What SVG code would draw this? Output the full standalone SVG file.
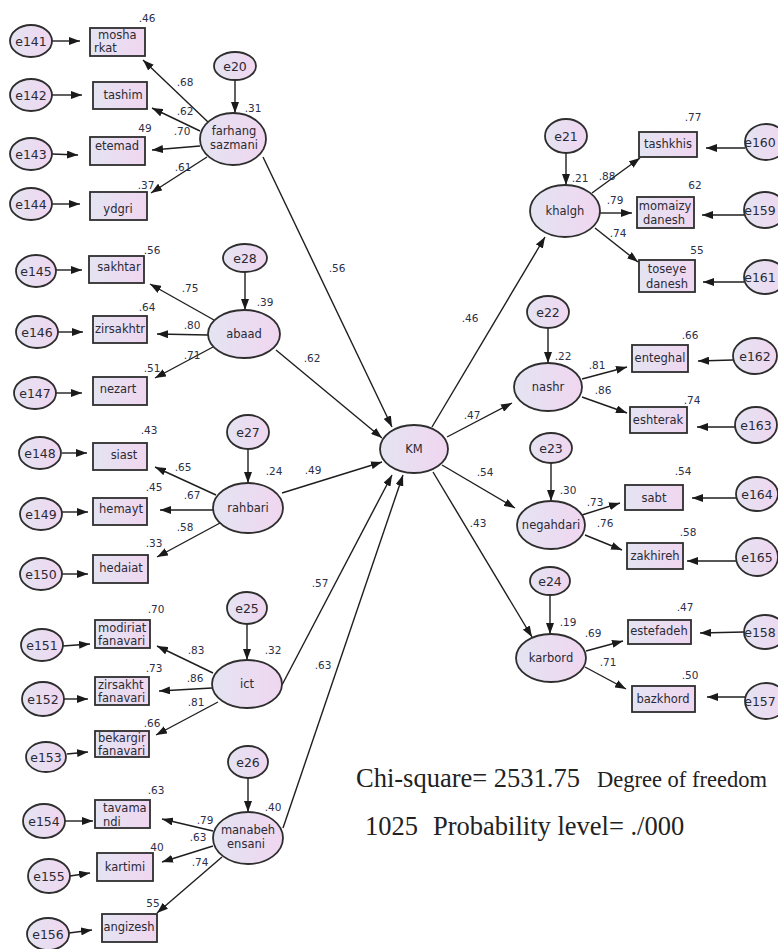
<svg xmlns="http://www.w3.org/2000/svg" width="778" height="949" viewBox="0 0 778 949">
<defs>
<linearGradient id="g" x1="0" y1="0" x2="1" y2="0">
<stop offset="0" stop-color="#e4e4f2"/>
<stop offset="1" stop-color="#f0d6f0"/>
</linearGradient>
<marker id="ah" markerWidth="11" markerHeight="8" refX="11" refY="4" orient="auto" markerUnits="userSpaceOnUse">
<path d="M0,0 L11,4 L0,8 z" fill="#1a1a1a"/>
</marker>
</defs>
<style>
ellipse{fill:url(#g);stroke:#2e2e2e;stroke-width:1.8}
rect.b{fill:url(#g);stroke:#2e2e2e;stroke-width:1.8}
text{font-family:"DejaVu Sans",Verdana,sans-serif;fill:#2a2a35}
.e{font-size:12.5px;text-anchor:middle}
.l{font-size:11.5px;text-anchor:middle}
.ls{font-size:11.5px;text-anchor:start}
.c{font-size:10.5px;text-anchor:middle;fill:#2c2f48}
#connectors line{stroke:#1e1e1e;stroke-width:1.4;marker-end:url(#ah)}
.f{font-family:"Liberation Serif","Times New Roman",serif;font-size:26.5px;fill:#222}
</style>
<rect x="0" y="0" width="778" height="949" style="fill:#ffffff;stroke:none"/>
<g id="connectors">
<line x1="52" y1="41" x2="80" y2="41"/>
<line x1="52" y1="95" x2="82" y2="95"/>
<line x1="52" y1="154" x2="78" y2="155"/>
<line x1="52" y1="204" x2="80" y2="204"/>
<line x1="56" y1="270" x2="82" y2="270"/>
<line x1="58" y1="332" x2="83" y2="332"/>
<line x1="56" y1="393" x2="82" y2="393"/>
<line x1="62" y1="453" x2="87" y2="453"/>
<line x1="62" y1="512" x2="88" y2="512"/>
<line x1="62" y1="574" x2="88" y2="574"/>
<line x1="63" y1="646" x2="90" y2="644"/>
<line x1="64" y1="699" x2="88" y2="699"/>
<line x1="67" y1="754" x2="88" y2="752"/>
<line x1="65" y1="821" x2="93" y2="821"/>
<line x1="70" y1="876" x2="90" y2="873"/>
<line x1="69" y1="933" x2="92" y2="930"/>
<line x1="208" y1="122" x2="143" y2="60"/>
<line x1="200" y1="131" x2="152" y2="108"/>
<line x1="200" y1="146" x2="152" y2="150"/>
<line x1="207" y1="157" x2="151" y2="193"/>
<line x1="214" y1="320" x2="150" y2="284"/>
<line x1="208" y1="335" x2="157" y2="334"/>
<line x1="213" y1="347" x2="155" y2="378"/>
<line x1="216" y1="495" x2="155" y2="467"/>
<line x1="213" y1="510" x2="160" y2="510"/>
<line x1="220" y1="523" x2="157" y2="557"/>
<line x1="213" y1="673" x2="157" y2="646"/>
<line x1="212" y1="688" x2="159" y2="691"/>
<line x1="218" y1="702" x2="156" y2="735"/>
<line x1="213" y1="831" x2="162" y2="819"/>
<line x1="213" y1="846" x2="162" y2="862"/>
<line x1="222" y1="857" x2="157" y2="913"/>
<line x1="235" y1="80" x2="235" y2="113"/>
<line x1="245" y1="272" x2="245" y2="310"/>
<line x1="248" y1="448" x2="248" y2="483"/>
<line x1="247" y1="624" x2="247" y2="660"/>
<line x1="248" y1="778" x2="248" y2="812"/>
<line x1="566" y1="153" x2="566" y2="185"/>
<line x1="548" y1="328" x2="548" y2="363"/>
<line x1="551" y1="463" x2="551" y2="501"/>
<line x1="550" y1="595" x2="550" y2="634"/>
<line x1="263" y1="157" x2="392" y2="427"/>
<line x1="276" y1="350" x2="382" y2="438"/>
<line x1="282" y1="493" x2="382" y2="462"/>
<line x1="282" y1="685" x2="392" y2="475"/>
<line x1="283" y1="828" x2="403" y2="475"/>
<line x1="432" y1="427" x2="545" y2="237"/>
<line x1="447" y1="437" x2="512" y2="403"/>
<line x1="442" y1="465" x2="515" y2="508"/>
<line x1="433" y1="472" x2="532" y2="637"/>
<line x1="592" y1="193" x2="640" y2="158"/>
<line x1="600" y1="213" x2="632" y2="213"/>
<line x1="595" y1="228" x2="638" y2="262"/>
<line x1="745" y1="148" x2="706" y2="148"/>
<line x1="744" y1="215" x2="702" y2="215"/>
<line x1="744" y1="282" x2="703" y2="282"/>
<line x1="582" y1="379" x2="627" y2="367"/>
<line x1="582" y1="397" x2="627" y2="413"/>
<line x1="733" y1="360" x2="698" y2="361"/>
<line x1="735" y1="427" x2="697" y2="427"/>
<line x1="582" y1="515" x2="620" y2="503"/>
<line x1="585" y1="535" x2="622" y2="550"/>
<line x1="737" y1="498" x2="692" y2="498"/>
<line x1="737" y1="561" x2="687" y2="561"/>
<line x1="586" y1="651" x2="623" y2="641"/>
<line x1="585" y1="667" x2="626" y2="689"/>
<line x1="744" y1="632" x2="700" y2="633"/>
<line x1="745" y1="697" x2="707" y2="697"/>
</g>
<g id="e141"><ellipse cx="31" cy="41" rx="21" ry="16"/><text class="e" x="31" y="45.5">e141</text></g>
<g id="e142"><ellipse cx="31" cy="95" rx="21" ry="16"/><text class="e" x="31" y="99.5">e142</text></g>
<g id="e143"><ellipse cx="31" cy="154" rx="21" ry="16"/><text class="e" x="31" y="158.5">e143</text></g>
<g id="e144"><ellipse cx="31" cy="204" rx="21" ry="16"/><text class="e" x="31" y="208.5">e144</text></g>
<g id="e145"><ellipse cx="36" cy="271" rx="20" ry="16"/><text class="e" x="36" y="275.5">e145</text></g>
<g id="e146"><ellipse cx="37" cy="332" rx="21" ry="16"/><text class="e" x="37" y="336.5">e146</text></g>
<g id="e147"><ellipse cx="35" cy="393" rx="21" ry="16"/><text class="e" x="35" y="397.5">e147</text></g>
<g id="e148"><ellipse cx="40" cy="453" rx="21" ry="16"/><text class="e" x="40" y="457.5">e148</text></g>
<g id="e149"><ellipse cx="41" cy="514" rx="21" ry="16"/><text class="e" x="41" y="518.5">e149</text></g>
<g id="e150"><ellipse cx="41" cy="574" rx="21" ry="16"/><text class="e" x="41" y="578.5">e150</text></g>
<g id="e151"><ellipse cx="42" cy="645" rx="21" ry="16"/><text class="e" x="42" y="649.5">e151</text></g>
<g id="e152"><ellipse cx="43" cy="699" rx="21" ry="17"/><text class="e" x="43" y="703.5">e152</text></g>
<g id="e153"><ellipse cx="46" cy="757" rx="20" ry="15"/><text class="e" x="46" y="761.5">e153</text></g>
<g id="e154"><ellipse cx="44" cy="821" rx="21" ry="17"/><text class="e" x="44" y="825.5">e154</text></g>
<g id="e155"><ellipse cx="49" cy="876" rx="21" ry="17"/><text class="e" x="49" y="880.5">e155</text></g>
<g id="e156"><ellipse cx="48" cy="934" rx="21" ry="16"/><text class="e" x="48" y="938.5">e156</text></g>

<g id="mosharkat"><rect class="b" x="90" y="28" width="55" height="28"/><text class="ls" x="98" y="39">mosha</text><text class="ls" x="94" y="52">rkat</text></g>
<g id="tashim"><rect class="b" x="93" y="82" width="54" height="27"/><text class="l" x="123" y="99">tashim</text></g>
<g id="etemad"><rect class="b" x="90" y="137" width="55" height="28"/><text class="l" x="117" y="150">etemad</text></g>
<g id="ydgri"><rect class="b" x="90" y="192" width="57" height="28"/><text class="l" x="118" y="213">ydgri</text></g>
<g id="sakhtar"><rect class="b" x="89" y="256" width="55" height="27"/><text class="l" x="119" y="271">sakhtar</text></g>
<g id="zirsakhtr"><rect class="b" x="93" y="316" width="54" height="27"/><text class="l" x="120" y="333">zirsakhtr</text></g>
<g id="nezart"><rect class="b" x="93" y="377" width="54" height="28"/><text class="l" x="118" y="393">nezart</text></g>
<g id="siast"><rect class="b" x="93" y="443" width="54" height="27"/><text class="l" x="124" y="459">siast</text></g>
<g id="hemayt"><rect class="b" x="93" y="498" width="54" height="27"/><text class="l" x="121" y="513">hemayt</text></g>
<g id="hedaiat"><rect class="b" x="93" y="555" width="55" height="28"/><text class="l" x="121" y="572">hedaiat</text></g>
<g id="modiriat"><rect class="b" x="95" y="620" width="55" height="28"/><text class="ls" x="98" y="632">modiriat</text><text class="ls" x="98" y="645">fanavari</text></g>
<g id="zirsakht"><rect class="b" x="95" y="677" width="54" height="28"/><text class="ls" x="98" y="689">zirsakht</text><text class="ls" x="98" y="702">fanavari</text></g>
<g id="bekargir"><rect class="b" x="95" y="731" width="54" height="26"/><text class="ls" x="98" y="742">bekargir</text><text class="ls" x="98" y="755">fanavari</text></g>
<g id="tavamandi"><rect class="b" x="95" y="800" width="55" height="28"/><text class="ls" x="103" y="812">tavama</text><text class="ls" x="103" y="826">ndi</text></g>
<g id="kartimi"><rect class="b" x="97" y="853" width="56" height="28"/><text class="l" x="125" y="871">kartimi</text></g>
<g id="angizesh"><rect class="b" x="102" y="914" width="55" height="28"/><text class="l" x="129" y="931">angizesh</text></g>

<g id="farhang"><ellipse cx="233" cy="139" rx="33" ry="26"/><text class="l" x="234" y="135">farhang</text><text class="l" x="234" y="149">sazmani</text></g>
<g id="abaad"><ellipse cx="244" cy="334" rx="36" ry="24"/><text class="l" x="244" y="338">abaad</text></g>
<g id="rahbari"><ellipse cx="248" cy="508" rx="35" ry="25"/><text class="l" x="248" y="512">rahbari</text></g>
<g id="ict"><ellipse cx="247" cy="684" rx="35" ry="24"/><text class="l" x="247" y="688">ict</text></g>
<g id="manabeh"><ellipse cx="248" cy="838" rx="35" ry="26"/><text class="l" x="248" y="834">manabeh</text><text class="l" x="246" y="848">ensani</text></g>

<g id="e20"><ellipse cx="235" cy="66" rx="21" ry="14"/><text class="e" x="235" y="70.5">e20</text></g>
<g id="e28"><ellipse cx="245" cy="258" rx="22" ry="14"/><text class="e" x="245" y="262.5">e28</text></g>
<g id="e27"><ellipse cx="248" cy="432" rx="21" ry="17"/><text class="e" x="248" y="436.5">e27</text></g>
<g id="e25"><ellipse cx="247" cy="608" rx="20" ry="16"/><text class="e" x="247" y="612.5">e25</text></g>
<g id="e26"><ellipse cx="248" cy="762" rx="20" ry="16"/><text class="e" x="248" y="766.5">e26</text></g>

<g id="KM"><ellipse cx="414" cy="449" rx="34" ry="24"/><text class="l" x="414" y="453">KM</text></g>

<g id="khalgh"><ellipse cx="565" cy="211" rx="35" ry="26"/><text class="l" x="565" y="215">khalgh</text></g>
<g id="nashr"><ellipse cx="548" cy="387" rx="34" ry="24"/><text class="l" x="548" y="391">nashr</text></g>
<g id="negahdari"><ellipse cx="551" cy="525" rx="34" ry="24"/><text class="l" x="551" y="529">negahdari</text></g>
<g id="karbord"><ellipse cx="551" cy="658" rx="35" ry="24"/><text class="l" x="551" y="662">karbord</text></g>

<g id="e21"><ellipse cx="566" cy="136" rx="21" ry="17"/><text class="e" x="566" y="140.5">e21</text></g>
<g id="e22"><ellipse cx="548" cy="312" rx="21" ry="16"/><text class="e" x="548" y="316.5">e22</text></g>
<g id="e23"><ellipse cx="551" cy="448" rx="21" ry="15"/><text class="e" x="551" y="452.5">e23</text></g>
<g id="e24"><ellipse cx="550" cy="581" rx="20" ry="14"/><text class="e" x="550" y="585.5">e24</text></g>

<g id="tashkhis"><rect class="b" x="639" y="132" width="58" height="25"/><text class="l" x="668" y="148">tashkhis</text></g>
<g id="momaizy"><rect class="b" x="637" y="197" width="57" height="31"/><text class="l" x="665" y="210">momaizy</text><text class="l" x="664" y="224">danesh</text></g>
<g id="toseye"><rect class="b" x="639" y="260" width="56" height="32"/><text class="l" x="667" y="273">toseye</text><text class="l" x="667" y="288">danesh</text></g>
<g id="enteghal"><rect class="b" x="632" y="345" width="56" height="27"/><text class="l" x="660" y="362">enteghal</text></g>
<g id="eshterak"><rect class="b" x="630" y="407" width="57" height="26"/><text class="l" x="658" y="424">eshterak</text></g>
<g id="sabt"><rect class="b" x="625" y="485" width="58" height="25"/><text class="l" x="654" y="502">sabt</text></g>
<g id="zakhireh"><rect class="b" x="627" y="543" width="56" height="26"/><text class="l" x="655" y="560">zakhireh</text></g>
<g id="estefadeh"><rect class="b" x="628" y="620" width="63" height="24"/><text class="l" x="659" y="635">estefadeh</text></g>
<g id="bazkhord"><rect class="b" x="632" y="686" width="63" height="26"/><text class="l" x="663" y="703">bazkhord</text></g>

<g id="e160"><ellipse cx="766" cy="142" rx="21" ry="18"/><text class="e" x="760" y="146.5">e160</text></g>
<g id="e159"><ellipse cx="765" cy="210" rx="21" ry="18"/><text class="e" x="760" y="214.5">e159</text></g>
<g id="e161"><ellipse cx="765" cy="277" rx="21" ry="17"/><text class="e" x="760" y="281.5">e161</text></g>
<g id="e162"><ellipse cx="755" cy="356" rx="22" ry="18"/><text class="e" x="755" y="360.5">e162</text></g>
<g id="e163"><ellipse cx="756" cy="425" rx="21" ry="18"/><text class="e" x="756" y="429.5">e163</text></g>
<g id="e164"><ellipse cx="757" cy="494" rx="21" ry="17"/><text class="e" x="757" y="498.5">e164</text></g>
<g id="e165"><ellipse cx="757" cy="557" rx="21" ry="19"/><text class="e" x="757" y="561.5">e165</text></g>
<g id="e158"><ellipse cx="765" cy="632" rx="21" ry="17"/><text class="e" x="760" y="636.5">e158</text></g>
<g id="e157"><ellipse cx="766" cy="701" rx="21" ry="18"/><text class="e" x="760" y="705.5">e157</text></g>

<g id="coefficients">
<text class="c" x="147" y="22">.46</text>
<text class="c" x="185" y="86">.68</text>
<text class="c" x="185" y="115">.62</text>
<text class="c" x="182" y="135">.70</text>
<text class="c" x="145" y="132">49</text>
<text class="c" x="183" y="171">.61</text>
<text class="c" x="146" y="189">.37</text>
<text class="c" x="253" y="112">.31</text>
<text class="c" x="152" y="254">.56</text>
<text class="c" x="147" y="311">.64</text>
<text class="c" x="152" y="372">.51</text>
<text class="c" x="190" y="292">.75</text>
<text class="c" x="192" y="329">.80</text>
<text class="c" x="192" y="359">.71</text>
<text class="c" x="265" y="306">.39</text>
<text class="c" x="149" y="434">.43</text>
<text class="c" x="154" y="491">.45</text>
<text class="c" x="154" y="547">.33</text>
<text class="c" x="183" y="471">.65</text>
<text class="c" x="192" y="499">.67</text>
<text class="c" x="185" y="531">.58</text>
<text class="c" x="274" y="475">.24</text>
<text class="c" x="156" y="613">.70</text>
<text class="c" x="154" y="672">.73</text>
<text class="c" x="152" y="727">.66</text>
<text class="c" x="196" y="654">.83</text>
<text class="c" x="195" y="682">.86</text>
<text class="c" x="196" y="706">.81</text>
<text class="c" x="273" y="654">.32</text>
<text class="c" x="156" y="794">.63</text>
<text class="c" x="157" y="851">40</text>
<text class="c" x="153" y="907">55</text>
<text class="c" x="205" y="824">.79</text>
<text class="c" x="198" y="841">.63</text>
<text class="c" x="200" y="866">.74</text>
<text class="c" x="273" y="811">.40</text>
<text class="c" x="337" y="272">.56</text>
<text class="c" x="312" y="362">.62</text>
<text class="c" x="313" y="474">.49</text>
<text class="c" x="320" y="587">.57</text>
<text class="c" x="323" y="669">.63</text>
<text class="c" x="470" y="322">.46</text>
<text class="c" x="472" y="419">.47</text>
<text class="c" x="485" y="476">.54</text>
<text class="c" x="478" y="527">.43</text>
<text class="c" x="580" y="182">.21</text>
<text class="c" x="607" y="180">.88</text>
<text class="c" x="615" y="204">.79</text>
<text class="c" x="618" y="237">.74</text>
<text class="c" x="693" y="121">.77</text>
<text class="c" x="695" y="189">62</text>
<text class="c" x="697" y="254">55</text>
<text class="c" x="563" y="360">.22</text>
<text class="c" x="597" y="369">.81</text>
<text class="c" x="603" y="394">.86</text>
<text class="c" x="690" y="339">.66</text>
<text class="c" x="692" y="404">.74</text>
<text class="c" x="568" y="494">.30</text>
<text class="c" x="595" y="506">.73</text>
<text class="c" x="605" y="527">.76</text>
<text class="c" x="683" y="475">.54</text>
<text class="c" x="688" y="536">.58</text>
<text class="c" x="568" y="626">.19</text>
<text class="c" x="593" y="637">.69</text>
<text class="c" x="608" y="666">.71</text>
<text class="c" x="685" y="611">.47</text>
<text class="c" x="690" y="679">.50</text>
</g>
<g id="fit">
<text class="f" x="356" y="787">Chi-square= 2531.75</text>
<text class="f" x="597" y="787" style="font-size:22.5px">Degree of freedom</text>
<text class="f" x="365" y="835">1025</text>
<text class="f" x="433" y="835">Probability level= ./000</text>
</g>
</svg>
